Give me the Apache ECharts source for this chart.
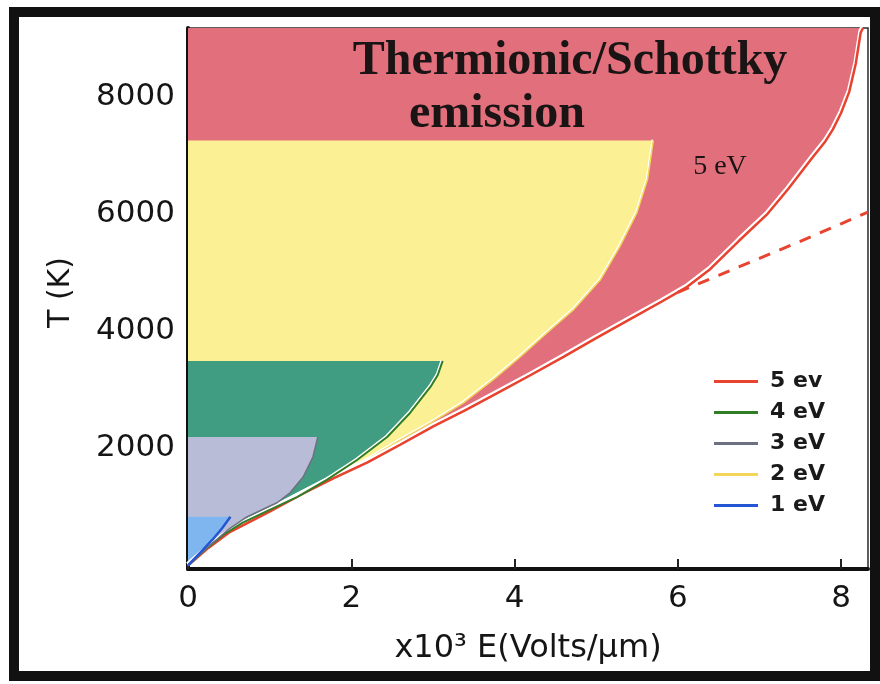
<!DOCTYPE html>
<html>
<head>
<meta charset="utf-8">
<script src="https://cdn.jsdelivr.net/npm/echarts@6/dist/echarts.min.js"></script>
<style>
  html, body { margin: 0; padding: 0; background: #ffffff; }
  #chart { width: 880px; height: 684px; }
</style>
</head>
<body>
<div id="chart"></div>
<script>
// Emission regimes: field E (x10^3 V/µm) against temperature T (K)
const xTicks = [0, 2, 4, 6, 8];
const yTicks = [2000, 4000, 6000, 8000];
const legendNames = ['5 ev', '4 eV', '3 eV', '2 eV', '1 eV'];

// Upper temperature of each shaded regime (K)
const topT5 = 9170;
const topT2 = 7250;
const topT4 = 3490;
const topT3 = 2193;
const topT1 = 830;

// Boundary curves [E, T], from the upper corner down to the origin
const curve5 = [[8.27, 9170], [8.24, 9090], [8.18, 8560], [8.1, 8080], [8.0, 7720], [7.9, 7440],
  [7.8, 7220], [7.65, 6960], [7.35, 6420], [7.1, 6000], [6.75, 5540], [6.4, 5060], [6.1, 4740],
  [5.8, 4500], [5.45, 4230], [5.0, 3880], [4.6, 3560], [4.2, 3250], [3.8, 2950], [3.4, 2650],
  [3.0, 2370], [2.6, 2060], [2.2, 1760], [1.8, 1500], [1.4, 1220], [1.0, 920], [0.75, 740],
  [0.5, 560], [0.25, 300], [0, 0]];
const curve5Dashed = [[6.0, 4660], [6.5, 4950], [7.0, 5240], [7.5, 5530], [8.0, 5830], [8.33, 6030]];
const curve2 = [[5.70, 7250], [5.63, 6590], [5.50, 6020], [5.29, 5440], [5.05, 4870], [4.72, 4360],
  [4.40, 3970], [4.07, 3560], [3.74, 3170], [3.37, 2770], [2.97, 2430], [2.60, 2140], [2.2, 1810],
  [1.8, 1540], [1.4, 1250], [1.0, 960], [0.6, 680], [0.3, 370], [0, 0]];
const curve4 = [[3.12, 3490], [3.06, 3250], [2.97, 3046], [2.72, 2602], [2.44, 2193], [2.07, 1800],
  [1.70, 1460], [1.34, 1170], [1.0, 950], [0.67, 730], [0.43, 520], [0.2, 260], [0, 0]];
const curve3 = [[1.59, 2193], [1.53, 1850], [1.41, 1510], [1.25, 1240], [1.09, 1070], [0.92, 960],
  [0.72, 830], [0.5, 620], [0.25, 320], [0, 0]];
const curve1 = [[0.52, 830], [0.42, 640], [0.3, 440], [0.15, 220], [0, 0]];

const textFont = 'DejaVu Sans';

// Filled regime: closed along the T axis and the upper temperature limit
function regionSeries(curve, top, fill) {
  return {
    type: 'custom',
    silent: true,
    animation: false,
    clip: true,
    z: 1,
    data: [[0, 0]],
    encode: { x: 0, y: 1 },
    renderItem: function (params, api) {
      const pts = [[0, top]].concat(curve).map(function (p) { return api.coord(p); });
      return { type: 'polygon', shape: { points: pts }, style: { fill: fill } };
    }
  };
}

function curveSeries(name, data, color, width, extra) {
  return Object.assign({
    name: name,
    type: 'line',
    data: data,
    symbol: 'none',
    showSymbol: false,
    animation: false,
    silent: true,
    z: 5,
    itemStyle: { color: color },
    lineStyle: { color: color, width: width }
  }, extra || {});
}

const chart = echarts.init(document.getElementById('chart'), null, { renderer: 'canvas' });

chart.setOption({
  backgroundColor: '#ffffff',
  animation: false,
  grid: {
    left: 188, right: 12, top: 28, bottom: 115,
    show: true, borderColor: '#2a2a2a', borderWidth: 1.5, backgroundColor: '#ffffff'
  },
  xAxis: {
    type: 'value',
    min: 0, max: 8.33, interval: 2,
    name: 'x10³ E(Volts/μm)',
    nameLocation: 'middle',
    nameGap: 64,
    nameTextStyle: { fontFamily: textFont, fontSize: 32, color: '#151515' },
    axisLine: { show: true, onZero: false, lineStyle: { color: '#111', width: 4 } },
    axisTick: { show: true, inside: true, length: 10, lineStyle: { color: '#222', width: 2 },
      customValues: xTicks },
    axisLabel: { customValues: xTicks, fontFamily: textFont, fontSize: 31, color: '#151515', margin: 14,
      formatter: function (v) { return String(v); } },
    splitLine: { show: false }
  },
  yAxis: {
    type: 'value',
    min: -60, max: 9170,
    name: 'T (K)',
    nameLocation: 'middle',
    nameRotate: 90,
    nameGap: 112,
    nameTextStyle: { fontFamily: textFont, fontSize: 30, color: '#151515', padding: [0, 0, 0, 12] },
    axisLine: { show: true, onZero: false, lineStyle: { color: '#111', width: 4 } },
    axisTick: { show: true, inside: true, length: 9, lineStyle: { color: '#333', width: 2 },
      customValues: yTicks },
    axisLabel: { customValues: yTicks, fontFamily: textFont, fontSize: 31, color: '#151515', margin: 13,
      formatter: function (v) { return String(v); } },
    splitLine: { show: false }
  },
  legend: {
    data: legendNames,
    orient: 'vertical',
    left: 709,
    top: 365,
    itemWidth: 44,
    itemHeight: 3,
    itemGap: 8,
    icon: 'rect',
    selectedMode: false,
    textStyle: { fontFamily: textFont, fontSize: 22, fontWeight: 'bold', color: '#1a1a1a',
      lineHeight: 23, padding: [0, 0, 0, 7] }
  },
  graphic: [
    {
      type: 'rect', silent: true, z: 100,
      shape: { x: 14, y: 12, width: 861, height: 664 },
      style: { fill: 'none', stroke: '#111', lineWidth: 10 }
    },
    {
      type: 'text', silent: true, z: 50,
      x: 570, y: 62,
      style: { text: 'Thermionic/Schottky', font: 'bold 48px "Liberation Serif"', fill: '#1a1414',
        align: 'center', verticalAlign: 'middle' }
    },
    {
      type: 'text', silent: true, z: 50,
      x: 497, y: 115,
      style: { text: 'emission', font: 'bold 48px "Liberation Serif"', fill: '#1a1414',
        align: 'center', verticalAlign: 'middle' }
    },
    {
      type: 'text', silent: true, z: 50,
      x: 720, y: 167,
      style: { text: '5 eV', font: '28px "Liberation Serif"', fill: '#1a1414',
        align: 'center', verticalAlign: 'middle' }
    }
  ],
  series: [
    regionSeries(curve5, topT5, '#e2707c'),
    regionSeries(curve2, topT2, '#fbf194'),
    regionSeries(curve4, topT4, '#419d82'),
    regionSeries(curve3, topT3, '#b9bcd6'),
    regionSeries(curve1, topT1, '#7fb6ef'),
    curveSeries('2 eV', curve2, '#f2d55a', 1.5,
      { lineStyle: { color: '#f2d55a', width: 1.5, shadowColor: '#ffffff', shadowOffsetX: -1, shadowOffsetY: -1 } }),
    curveSeries('5 ev', curve5, '#e8432f', 2.5,
      { lineStyle: { color: '#e8432f', width: 2.5, shadowColor: '#ffffff', shadowOffsetX: -1, shadowOffsetY: -2 } }),
    curveSeries('5 ev dashed', curve5Dashed, '#e8432f', 3,
      { lineStyle: { color: '#e8432f', width: 3, type: [12, 10] } }),
    curveSeries('4 eV', curve4, '#2f7d25', 2,
      { lineStyle: { color: '#2f7d25', width: 2, shadowColor: '#ffffff', shadowOffsetX: -1, shadowOffsetY: -1 } }),
    curveSeries('3 eV', curve3, '#6d7080', 1.5),
    curveSeries('1 eV', curve1, '#2455d4', 2.5)
  ]
});
</script>
</body>
</html>
